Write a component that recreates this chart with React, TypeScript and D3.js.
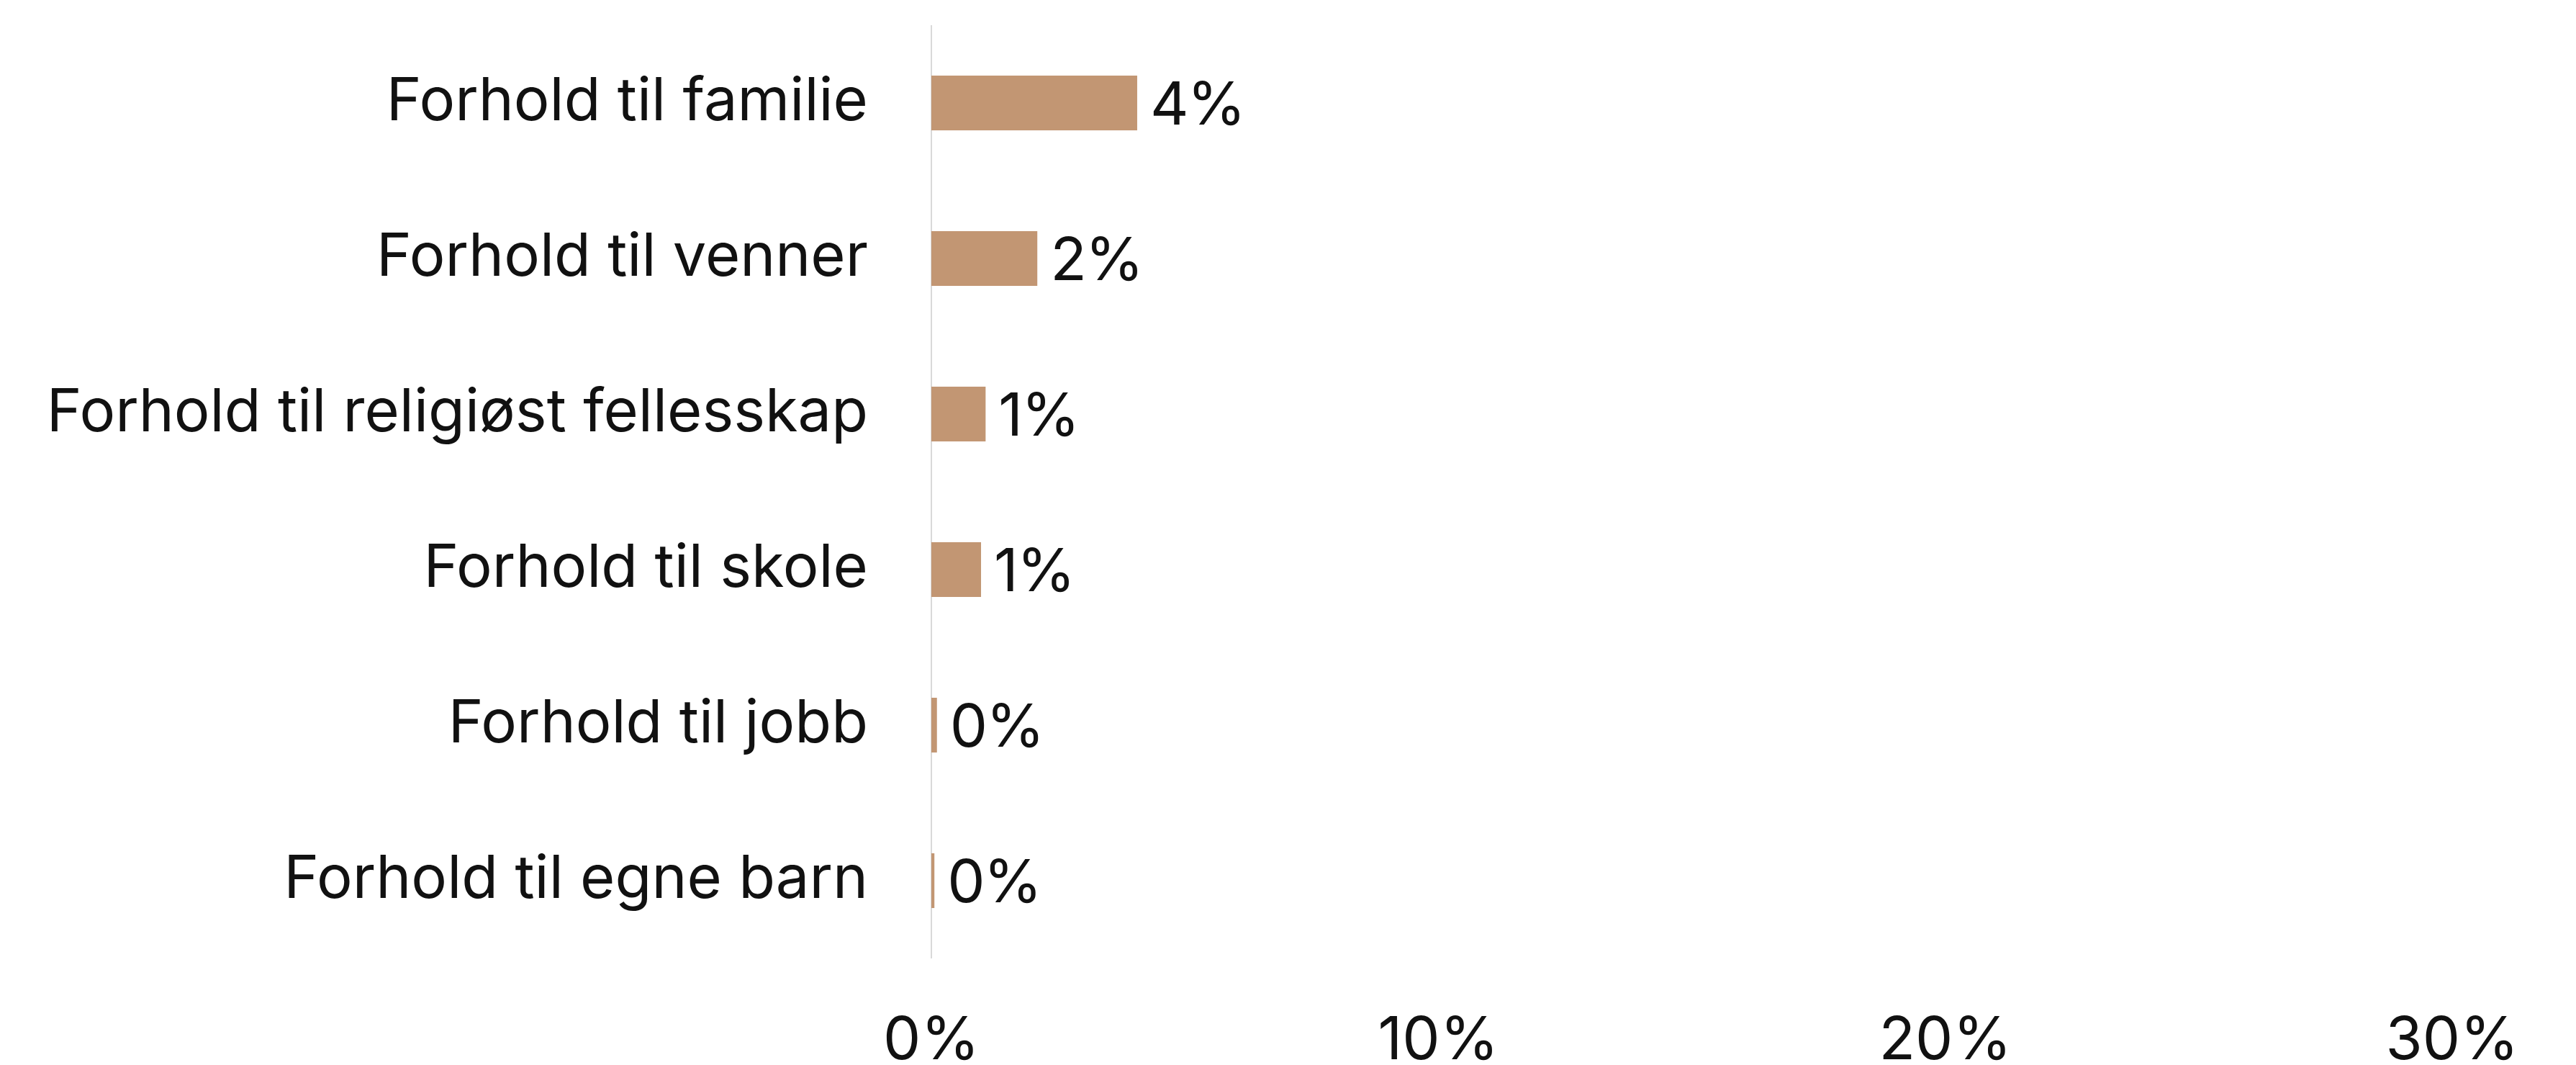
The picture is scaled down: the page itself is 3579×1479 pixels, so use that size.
import React from 'react';
import * as d3 from 'd3';

const categories = [
  'Forhold til familie',
  'Forhold til venner',
  'Forhold til religiøst fellesskap',
  'Forhold til skole',
  'Forhold til jobb',
  'Forhold til egne barn',
];
const values = [0.0406, 0.0209, 0.0107, 0.0098, 0.0011, 0.0006];
const valueLabels = ['4%', '2%', '1%', '1%', '0%', '0%'];
const xTicks = [0, 0.1, 0.2, 0.3];

const useD3 = (renderChartFn: Function, deps: Array<unknown>) => {
  const ref = React.useRef<SVGSVGElement>(null);
  React.useEffect(() => {
    renderChartFn(d3.select(ref.current));
  }, deps); // eslint-disable-line
  return ref;
};

function Chart() {
  const width = 3579;
  const height = 1479;
  const font = 'Inter, "DejaVu Sans", sans-serif';
  const fontSize = 83;

  const ref = useD3(
    (svg: any) => {
      svg.selectAll('*').remove();

      const x = d3.scaleLinear().domain([0, 0.3]).range([1294, 3407]);
      const y = d3
        .scaleBand()
        .domain(categories)
        .range([35, 1331])
        .paddingInner(0.648)
        .paddingOuter(0.324);

      // baseline
      svg
        .append('line')
        .attr('x1', x(0))
        .attr('x2', x(0))
        .attr('y1', 35)
        .attr('y2', 1331)
        .attr('stroke', '#d9d9d9')
        .attr('stroke-width', 2);

      svg
        .append('g')
        .selectAll('rect')
        .data(values)
        .join('rect')
        .attr('x', x(0))
        .attr('y', (_: number, i: number) => y(categories[i]))
        .attr('width', (d: number) => x(d) - x(0))
        .attr('height', y.bandwidth())
        .attr('fill', '#c29673');

      // category labels
      svg
        .append('g')
        .selectAll('text')
        .data(categories)
        .join('text')
        .attr('x', x(0) - 88)
        .attr('y', (d: string) => y(d)! + y.bandwidth() / 2 + 24)
        .attr('text-anchor', 'end')
        .attr('font-family', font)
        .attr('font-size', fontSize)
        .attr('fill', '#111')
        .text((d: string) => d);

      // value labels
      svg
        .append('g')
        .selectAll('text')
        .data(values)
        .join('text')
        .attr('x', (d: number) => x(d) + 18)
        .attr('y', (_: number, i: number) => y(categories[i])! + y.bandwidth() / 2 + 30)
        .attr('font-family', font)
        .attr('font-size', fontSize)
        .attr('letter-spacing', -2)
        .attr('fill', '#111')
        .text((_: number, i: number) => valueLabels[i]);

      // x axis tick labels
      svg
        .append('g')
        .selectAll('text')
        .data(xTicks)
        .join('text')
        .attr('x', (d: number) => x(d))
        .attr('y', 1471)
        .attr('text-anchor', 'middle')
        .attr('font-family', font)
        .attr('font-size', fontSize)
        .attr('fill', '#111')
        .text((d: number) => d3.format('.0%')(d));
    },
    []
  );

  return (
    <svg
      ref={ref}
      width={width}
      height={height}
      style={{ position: 'absolute', left: 0, top: 0, background: '#fff' }}
    />
  );
}

export default function App() {
  return <Chart />;
}
